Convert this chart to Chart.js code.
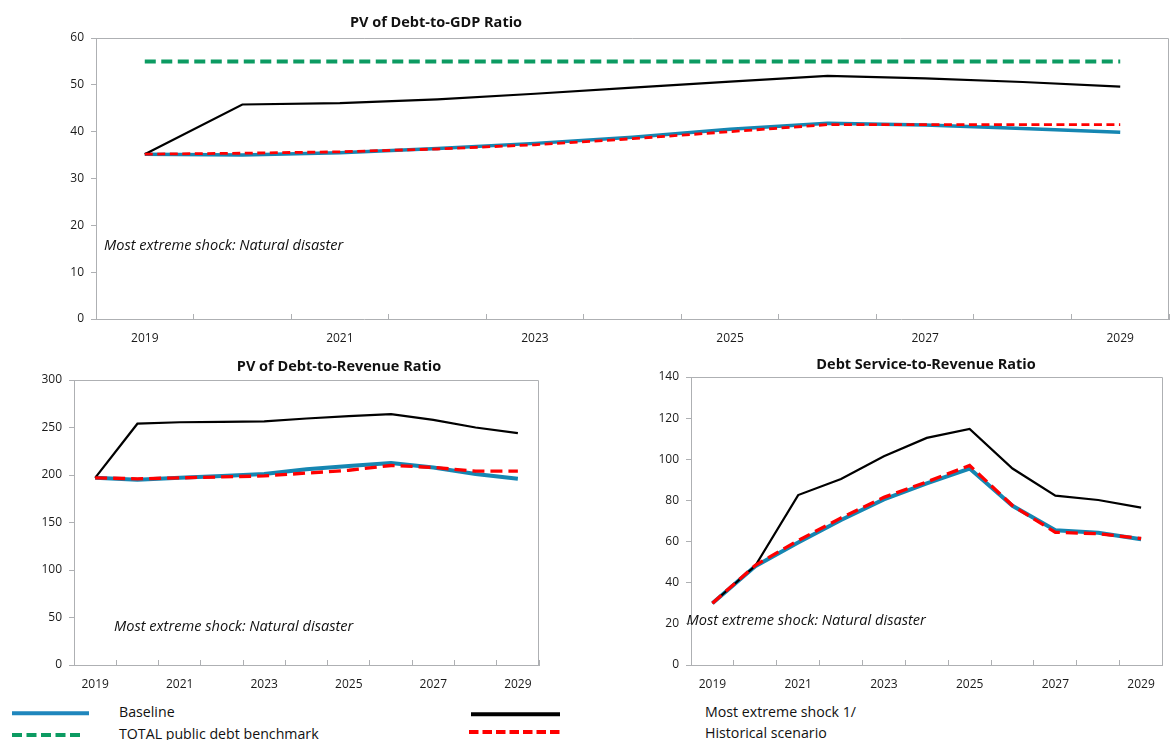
<!DOCTYPE html>
<html>
<head>
<meta charset="utf-8">
<script src="https://cdn.jsdelivr.net/npm/chart.js@4.4.1/dist/chart.umd.min.js"></script>
<style>
  body { margin: 0; width: 1172px; height: 740px; overflow: hidden; background: #fff; position: relative; font-family: "Open Sans", sans-serif; }
  canvas { position: absolute; }
  .lg { position: absolute; font-size: 14.2px; color: #111; line-height: 1; white-space: nowrap; transform: translateY(-50%); }
  #swatches { position: absolute; left: 0; top: 700px; }
</style>
</head>
<body>
<canvas id="gdp" width="1172" height="350" style="left:0;top:0"></canvas>
<canvas id="rev" width="560" height="340" style="left:0;top:350px"></canvas>
<canvas id="ds" width="572" height="340" style="left:600px;top:350px"></canvas>

<svg id="swatches" width="1172" height="40">
  <line x1="12" y1="13.3" x2="89" y2="13.3" stroke="#1f86bd" stroke-width="4"/>
  <line x1="12" y1="35" x2="84" y2="35" stroke="#0c9b62" stroke-width="4" stroke-dasharray="10 4.5"/>
  <line x1="471" y1="14.3" x2="560" y2="14.3" stroke="#000" stroke-width="4"/>
  <line x1="469" y1="32" x2="562" y2="32" stroke="#ff0000" stroke-width="4" stroke-dasharray="9.5 4"/>
</svg>
<div class="lg" style="left:119px;top:712px">Baseline</div>
<div class="lg" style="left:119px;top:734px">TOTAL public debt benchmark</div>
<div class="lg" style="left:705px;top:712px">Most extreme shock 1/</div>
<div class="lg" style="left:705px;top:733px">Historical scenario</div>

<script>
// years on the x axis
const years = ['2019', '2020', '2021', '2022', '2023', '2024', '2025', '2026', '2027', '2028', '2029'];

// PV of debt-to-GDP ratio
const gdpBaseline   = [35.2, 35.0, 35.5, 36.4, 37.5, 38.8, 40.5, 41.8, 41.4, 40.7, 39.9];
const gdpBenchmark  = [55, 55, 55, 55, 55, 55, 55, 55, 55, 55, 55];
const gdpShock      = [35.2, 45.8, 46.1, 46.9, 48.1, 49.4, 50.7, 51.9, 51.4, 50.6, 49.6];
const gdpHistorical = [35.2, 35.4, 35.7, 36.3, 37.2, 38.5, 40.0, 41.5, 41.5, 41.5, 41.5];

// PV of debt-to-revenue ratio
const revBaseline   = [197, 195, 197, 199, 201, 206, 209.5, 212.5, 208, 201, 196];
const revShock      = [197, 254, 255.5, 256, 256.5, 259.5, 262, 264, 258, 250, 244];
const revHistorical = [197, 196, 197, 198, 199, 202, 205, 210, 208, 204, 204];

// debt service-to-revenue ratio
const dsBaseline   = [30, 48, 59.5, 70.5, 80.5, 88.3, 95.5, 77.4, 65.5, 64.3, 61.1];
const dsShock      = [30, 48.2, 82.6, 90.4, 101.5, 110.4, 114.8, 95.5, 82.3, 80.2, 76.5];
const dsHistorical = [30, 48.5, 60.5, 71.5, 81.5, 89, 97, 77.5, 64.5, 63.8, 61.5];

const axisGray = '#aeb0b3';
const textCol = '#1a1a1a';
const fontFam = '"Open Sans", sans-serif';
const blue = '#1586b2';
const green = '#0c9b62';
const red = '#ff0000';

function line(label, data, color, width, dash, order) {
  return {
    label: label, data: data, borderColor: color, borderWidth: width,
    borderDash: dash || [], pointRadius: 0, tension: 0, fill: false, order: order
  };
}

function makeScales(max, step, yWidth, xHeight) {
  return {
    x: {
      type: 'category', offset: true,
      grid: { offset: true, drawOnChartArea: false, tickLength: -5, color: axisGray },
      border: { color: axisGray, width: 1 },
      ticks: {
        autoSkip: false, maxRotation: 0, padding: 17, color: textCol,
        font: { family: fontFam, size: 12 },
        callback: function (v, i) { return i % 2 ? '' : this.getLabelForValue(v); }
      },
      afterFit: function (s) { s.height = xHeight; }
    },
    y: {
      min: 0, max: max,
      grid: { drawOnChartArea: false, tickLength: 5, color: axisGray },
      border: { color: axisGray, width: 1 },
      ticks: { stepSize: step, padding: 7, color: textCol, font: { family: fontFam, size: 12 } },
      afterFit: function (s) { s.width = yWidth; }
    }
  };
}

// frame top/right, title and the italic note
const decor = {
  id: 'decor',
  afterDraw(chart, args, opts) {
    const ctx = chart.ctx, a = chart.chartArea;
    ctx.save();
    ctx.strokeStyle = axisGray;
    ctx.lineWidth = 1;
    const t = Math.round(a.top) + 0.5, r = Math.round(a.right) - 0.5;
    ctx.beginPath();
    ctx.moveTo(a.left, t);
    ctx.lineTo(r, t);
    ctx.lineTo(r, a.bottom);
    ctx.stroke();

    ctx.fillStyle = '#111';
    ctx.textBaseline = 'middle';
    ctx.textAlign = 'center';
    ctx.font = 'bold 14.5px ' + fontFam;
    ctx.fillText(opts.title, opts.tx, opts.ty);

    ctx.textAlign = 'left';
    ctx.font = 'italic 14.6px ' + fontFam;
    ctx.fillText('Most extreme shock: Natural disaster', opts.nx, opts.ny);
    ctx.restore();
  }
};

Chart.register(decor);

new Chart(document.getElementById('gdp'), {
  type: 'line',
  data: {
    labels: years,
    datasets: [
      line('Historical scenario', gdpHistorical, red, 2.8, [8, 4.5], 0),
      line('Most extreme shock 1/', gdpShock, '#000', 2.2, [], 1),
      line('TOTAL public debt benchmark', gdpBenchmark, green, 4, [11, 5.5], 2),
      line('Baseline', gdpBaseline, blue, 3.5, [], 3)
    ]
  },
  options: {
    responsive: false, animation: false,
    layout: { padding: { left: 0, top: 38, right: 3, bottom: 0 } },
    plugins: {
      legend: { display: false }, tooltip: { enabled: false },
      decor: { title: 'PV of Debt-to-GDP Ratio', tx: 436, ty: 23, nx: 104, ny: 246 }
    },
    scales: makeScales(60, 10, 96, 31)
  }
});

new Chart(document.getElementById('rev'), {
  type: 'line',
  data: {
    labels: years,
    datasets: [
      line('Historical scenario', revHistorical, red, 3.3, [12, 6], 0),
      line('Most extreme shock 1/', revShock, '#000', 2.2, [], 1),
      line('Baseline', revBaseline, blue, 4, [], 3)
    ]
  },
  options: {
    responsive: false, animation: false,
    layout: { padding: { left: 0, top: 30, right: 21, bottom: 0 } },
    plugins: {
      legend: { display: false }, tooltip: { enabled: false },
      decor: { title: 'PV of Debt-to-Revenue Ratio', tx: 339, ty: 16.7, nx: 114, ny: 276.7 }
    },
    scales: makeScales(300, 50, 74, 25)
  }
});

new Chart(document.getElementById('ds'), {
  type: 'line',
  data: {
    labels: years,
    datasets: [
      line('Historical scenario', dsHistorical, red, 3.3, [12, 6], 0),
      line('Most extreme shock 1/', dsShock, '#000', 2.2, [], 1),
      line('Baseline', dsBaseline, blue, 4, [], 3)
    ]
  },
  options: {
    responsive: false, animation: false,
    layout: { padding: { left: 0, top: 27, right: 4, bottom: 0 } },
    plugins: {
      legend: { display: false }, tooltip: { enabled: false },
      decor: { title: 'Debt Service-to-Revenue Ratio', tx: 326, ty: 15, nx: 86.5, ny: 270.7 }
    },
    scales: makeScales(140, 20, 91, 25)
  }
});
</script>
</body>
</html>
